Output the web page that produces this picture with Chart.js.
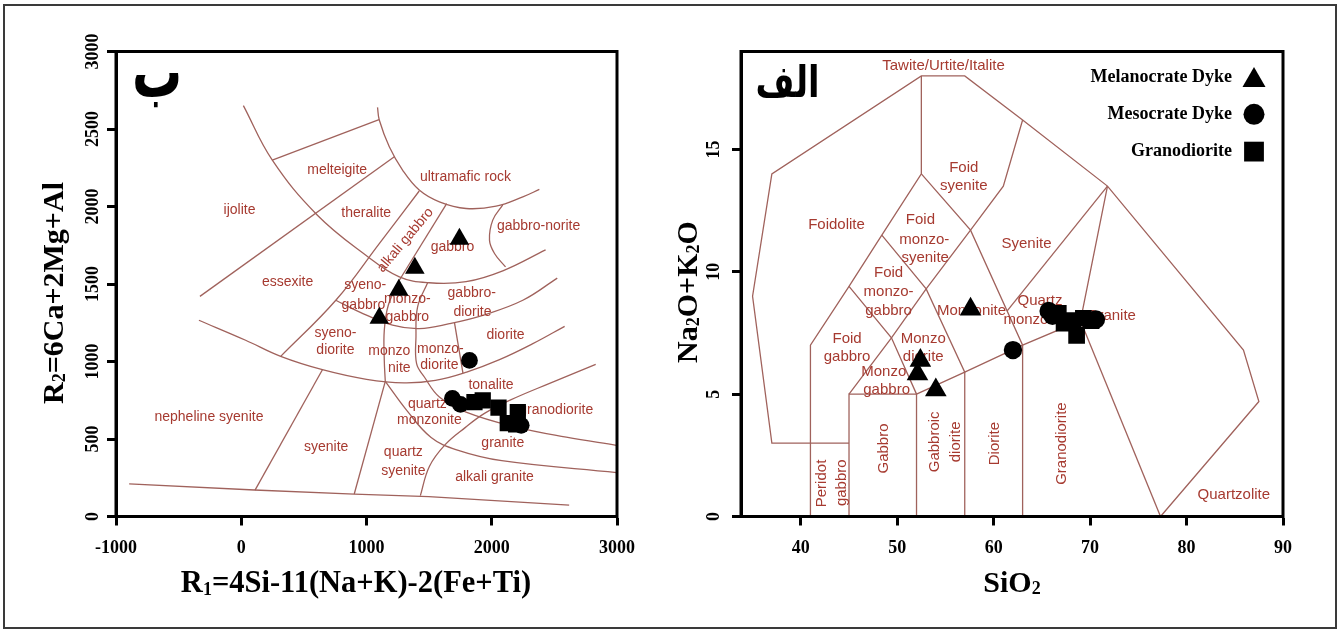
<!DOCTYPE html>
<html>
<head>
<meta charset="utf-8">
<script src="https://cdn.jsdelivr.net/npm/chart.js@4.4.1/dist/chart.umd.min.js"></script>
<style>
  html, body { margin: 0; padding: 0; background: #fff; }
  #wrap { position: relative; width: 1341px; height: 632px; overflow: hidden; background: #fff; }
  canvas { position: absolute; top: 0; }
  #leftChart { left: 0; }
  #rightChart { left: 670px; }
  #frame { position: absolute; left: 3px; top: 4px; width: 1330px; height: 621px; border: 2px solid #3a3a3a; pointer-events: none; }
</style>
</head>
<body>
<div id="wrap">
  <canvas id="leftChart" width="670" height="632"></canvas>
  <canvas id="rightChart" width="671" height="632"></canvas>
  <div id="frame"></div>
</div>
<script>
// ---------- R1–R2 diagram (left panel) ----------
const r1Ticks = [-1000, 0, 1000, 2000, 3000];
const r2Ticks = [0, 500, 1000, 1500, 2000, 2500, 3000];

// samples: [R1, R2]
const melanoR1R2 = [[1742, 1790], [1386, 1603], [1258, 1461], [1102, 1280]];
const mesoR1R2   = [[1822, 1007], [1686, 762], [1750, 723], [2235, 588]];
const granoR1R2  = [[1862, 738], [1928, 749], [2054, 702], [2208, 674], [2128, 603], [2195, 594]];

// field boundaries: [R1, R2]
const rrOuterArc        = [[17, 2651], [248, 2299], [608, 1944], [995, 1686], [1262, 1546], [1500, 1508], [1795, 1515], [2088, 1585], [2430, 1720]];
const rrUltramaficArc   = [[1088, 2640], [1102, 2558], [1182, 2385], [1288, 2235], [1421, 2106], [1582, 2030], [1795, 1987], [2035, 2002], [2248, 2062], [2380, 2110]];
const rrMelteigiteLine  = [[248, 2299], [1100, 2560]];
const rrIjoliteLine     = [[-330, 1420], [1225, 2322]];
const rrAlkGabbroWest   = [[1421, 2100], [1102, 1761], [755, 1395], [315, 1033]];
const rrAlkGabbroEast   = [[1640, 2018], [1262, 1524]];
const rrSyenoMonzoLine  = [[1262, 1524], [1174, 1363], [1142, 1201], [1142, 1008], [1150, 872]];
const rrQuartzSyenite   = [[1150, 872], [902, 145]];
const rrDioriteArc      = [[-338, 1266], [35, 1137], [315, 1033], [648, 947], [1000, 885], [1300, 862], [1550, 878], [1800, 932], [2062, 1012], [2328, 1115], [2582, 1227]];
const rrMonzoArc        = [[755, 1395], [942, 1320], [1208, 1234], [1422, 1212], [1662, 1244], [1928, 1298], [2248, 1395], [2523, 1538]];
const rrMonzoniteBend   = [[1488, 1508], [1408, 1352], [1395, 1158], [1400, 986], [1462, 900], [1582, 771], [1795, 674], [2195, 577], [2595, 512], [2995, 459]];
const rrQuartzArc       = [[1150, 872], [1326, 680], [1516, 510], [1720, 430], [2080, 360], [2997, 283]];
const rrGranodioriteArc = [[1430, 135], [1502, 323], [1630, 465], [1790, 575], [1942, 665], [2142, 749], [2462, 859], [2830, 981]];
const rrNephSyenite     = [[648, 947], [110, 170]];
const rrMonzodiorite    = [[1702, 1252], [1770, 925]];
const rrGabbroNoriteArc = [[2088, 2010], [2008, 1912], [1982, 1783], [2022, 1697], [2110, 1610]];
const rrBaseLine        = [[-895, 211], [105, 171], [902, 145], [1497, 128], [2618, 73]];

// [points, smooth]
const rrBoundaries = [
  [rrOuterArc, true], [rrUltramaficArc, true], [rrMelteigiteLine, false], [rrIjoliteLine, false],
  [rrAlkGabbroWest, true], [rrAlkGabbroEast, false], [rrSyenoMonzoLine, true], [rrQuartzSyenite, false],
  [rrDioriteArc, true], [rrMonzoArc, true], [rrMonzoniteBend, true], [rrQuartzArc, true],
  [rrGranodioriteArc, true], [rrNephSyenite, false], [rrMonzodiorite, false], [rrGabbroNoriteArc, true],
  [rrBaseLine, false]
];

// field names: [text, R1, R2, angle]
const rrFieldLabels = [
  ['melteigite', 766, 2235], ['ultramafic rock', 1790, 2188], ['ijolite', -14, 1979], ['theralite', 998, 1954],
  ['gabbro-norite', 2374, 1873], ['gabbro', 1686, 1741], ['alkali gabbro', 1310, 1783, -50], ['essexite', 370, 1511],
  ['syeno-', 990, 1492], ['gabbro', 975, 1365], ['monzo-', 1326, 1405], ['gabbro', 1326, 1285],
  ['gabbro-', 1840, 1440], ['diorite', 1846, 1321], ['diorite', 2110, 1172],
  ['syeno-', 752, 1184], ['diorite', 752, 1072], ['monzo', 1182, 1068], ['nite', 1262, 954],
  ['monzo-', 1590, 1082], ['diorite', 1582, 975], ['tonalite', 1994, 846],
  ['quartz', 1486, 727], ['monzonite', 1502, 620], ['granodiorite', 2515, 685], ['granite', 2088, 473],
  ['alkali granite', 2022, 252], ['quartz', 1294, 413], ['syenite', 1294, 291], ['syenite', 678, 446],
  ['nepheline syenite', -258, 639]
];

// ---------- TAS diagram (right panel) ----------
const sio2Ticks = [40, 50, 60, 70, 80, 90];
const alkTicks = [0, 5, 10, 15];

// samples: [SiO2, Na2O+K2O]
const melanoTAS = [[57.6, 8.47], [52.4, 6.37], [52.1, 5.82], [54.0, 5.17]];
const mesoTAS   = [[62.0, 6.8], [65.7, 8.4], [66.1, 8.2], [70.6, 8.05]];
const granoTAS  = [[66.7, 8.3], [67.3, 7.9], [68.2, 8.0], [68.6, 7.4], [69.3, 8.1], [70.1, 8.0]];

// field boundaries: [SiO2, Na2O+K2O]
const tasOuter            = [[45, 3], [37, 3], [35, 9], [37, 14], [52.5, 18], [57, 18], [63, 16.2], [71.8, 13.5], [85.9, 6.8], [87.5, 4.7], [77.3, 0]];
const tasFoidoliteEdge    = [[41, 0], [41, 7], [45, 9.4], [48.4, 11.5], [52.5, 14], [52.5, 18]];
const tasGabbroBox        = [[45, 0], [45, 5], [52, 5], [52, 0]];
const tasAlkaliEdge       = [[45, 5], [49.4, 7.3], [53, 9.3], [57.6, 11.7], [61, 13.5], [63, 16.2]];
const tasMonzogabbroEdge  = [[45, 9.4], [49.4, 7.3], [52, 5]];
const tasMonzodioriteEdge = [[48.4, 11.5], [53, 9.3], [57, 5.9], [57, 0]];
const tasMonzoniteEdge    = [[52.5, 14], [57.6, 11.7], [63, 7], [63, 0]];
const tasSubalkalineEdge  = [[52, 5], [57, 5.9], [63, 7], [69, 8], [71.8, 13.5]];
const tasGraniteEdge      = [[69, 8], [77.3, 0]];
const tasSyeniteEdge      = [[61.4, 8.4], [71.8, 13.5]];

const tasBoundaries = [
  tasOuter, tasFoidoliteEdge, tasGabbroBox, tasAlkaliEdge, tasMonzogabbroEdge,
  tasMonzodioriteEdge, tasMonzoniteEdge, tasSubalkalineEdge, tasGraniteEdge, tasSyeniteEdge
];

// field names: [text, SiO2, Na2O+K2O, angle]
const tasFieldLabels = [
  ['Tawite/Urtite/Italite', 54.8, 18.4], ['Foid', 56.9, 14.26], ['syenite', 56.9, 13.49], ['Foidolite', 43.7, 11.9],
  ['Foid', 52.4, 12.13], ['monzo-', 52.8, 11.31], ['syenite', 52.9, 10.57],
  ['Foid', 49.1, 9.94], ['monzo-', 49.1, 9.16], ['gabbro', 49.1, 8.42],
  ['Monzonite', 57.7, 8.42], ['Quartz', 64.8, 8.8], ['monzonite', 64.6, 8.04], ['Granite', 72.2, 8.21],
  ['Syenite', 63.4, 11.16], ['Foid', 44.8, 7.26], ['gabbro', 44.8, 6.51], ['Monzo', 52.7, 7.26], ['diorite', 52.7, 6.51],
  ['Monzo', 48.6, 5.9], ['gabbro', 48.9, 5.16],
  ['Peridot', 42.2, 1.35, -90], ['gabbro', 44.26, 1.38, -90], ['Gabbro', 48.6, 2.78, -90],
  ['Gabbroic', 53.9, 3.05, -90], ['diorite', 56.1, 3.05, -90], ['Diorite', 60.1, 2.98, -90],
  ['Granodiorite', 67.1, 2.98, -90], ['Quartzolite', 84.9, 0.88]
];

const tasLegend = [['Melanocrate Dyke', 'triangle'], ['Mesocrate Dyke', 'circle'], ['Granodiorite', 'rect']];

// axis titles with subscripts
const r1Title  = [{ t: 'R' }, { t: '1', sub: true }, { t: '=4Si-11(Na+K)-2(Fe+Ti)' }];
const r2Title  = [{ t: 'R' }, { t: '2', sub: true }, { t: '=6Ca+2Mg+Al' }];
const sioTitle = [{ t: 'SiO' }, { t: '2', sub: true }];
const alkTitle = [{ t: 'Na' }, { t: '2', sub: true }, { t: 'O+K' }, { t: '2', sub: true }, { t: 'O' }];

// ---------- drawing helpers ----------
const SERIF = "'Liberation Serif','Times New Roman',Times,serif";
const SANS = "'Liberation Sans',Arial,Helvetica,sans-serif";
const FIELD_COLOR = 'rgb(166,58,48)';
const LINE_COLOR = 'rgb(160,98,92)';

const toXY = pts => pts.map(([x, y]) => ({ x, y }));

function boundarySet(pts, smooth) {
  return {
    data: toXY(pts), showLine: true, pointRadius: 0, pointHoverRadius: 0,
    borderColor: LINE_COLOR, borderWidth: 1.3, tension: smooth ? 0.4 : 0, fill: false
  };
}
function markerSet(label, pts, style, radius) {
  return {
    label, data: toXY(pts), showLine: false, pointStyle: style, pointRadius: radius,
    pointHoverRadius: radius, backgroundColor: '#000', borderColor: '#000', borderWidth: 0
  };
}

function drawRich(ctx, parts, x, y, size, angle) {
  ctx.save();
  ctx.translate(x, y);
  if (angle) ctx.rotate(angle);
  const mainFont = `bold ${size}px ${SERIF}`;
  const subFont = `bold ${Math.round(size * 0.6)}px ${SERIF}`;
  let width = 0;
  for (const p of parts) { ctx.font = p.sub ? subFont : mainFont; width += ctx.measureText(p.t).width; }
  let cx = -width / 2;
  ctx.fillStyle = '#000';
  ctx.textAlign = 'left';
  ctx.textBaseline = 'alphabetic';
  for (const p of parts) {
    ctx.font = p.sub ? subFont : mainFont;
    ctx.fillText(p.t, cx, size * 0.33 + (p.sub ? size * 0.08 : 0));
    cx += ctx.measureText(p.t).width;
  }
  ctx.restore();
}

// field names go under the sample markers (markers are datasets 0..2, index 2 is drawn first)
function fieldLabelPlugin(list, fontSize) {
  return {
    id: 'fieldLabels',
    beforeDatasetDraw(chart, args) {
      if (args.index !== 2) return;
      const { ctx, scales: { x, y } } = chart;
      ctx.save();
      ctx.beginPath();
      ctx.rect(chart.chartArea.left, chart.chartArea.top, chart.chartArea.width, chart.chartArea.height);
      ctx.clip();
      ctx.fillStyle = FIELD_COLOR;
      ctx.font = `${fontSize}px ${SANS}`;
      ctx.textAlign = 'center';
      ctx.textBaseline = 'middle';
      for (const [text, vx, vy, ang] of list) {
        const px = x.getPixelForValue(vx), py = y.getPixelForValue(vy);
        ctx.save();
        ctx.translate(px, py);
        if (ang) ctx.rotate(ang * Math.PI / 180);
        ctx.fillText(text, 0, 0);
        ctx.restore();
      }
      ctx.restore();
    }
  };
}

const plotFrame = {
  id: 'plotFrame',
  afterDatasetsDraw(chart) {
    const { ctx, chartArea: a } = chart;
    ctx.save();
    ctx.strokeStyle = '#000';
    ctx.lineWidth = 3;
    ctx.strokeRect(a.left, a.top, a.right - a.left, a.bottom - a.top);
    ctx.restore();
  }
};

// panel letter (Arabic), axis titles, optional legend
function panelDecor(opts) {
  return {
    id: 'panelDecor',
    afterDraw(chart) {
      const { ctx, chartArea: a } = chart;
      opts.titles.forEach(tt => drawRich(ctx, tt.parts, tt.x, tt.y, tt.size, tt.angle));
      const m = opts.mark;
      ctx.save();
      ctx.translate(a.left + m.dx, a.top + m.dy);
      ctx.scale(m.sx, m.sy);
      ctx.fillStyle = '#000';
      ctx.font = `bold ${m.size}px 'DejaVu Sans',sans-serif`;
      ctx.textAlign = 'center';
      ctx.textBaseline = 'middle';
      ctx.direction = 'rtl';
      ctx.fillText(m.text, 0, 0);
      ctx.restore();
      if (opts.legend) opts.legend(chart);
    }
  };
}

function drawTasLegend(chart) {
  const { ctx, chartArea: a } = chart;
  const radii = { triangle: 13.3, circle: 10.5, rect: 14 };
  ctx.save();
  ctx.font = `bold 18px ${SERIF}`;
  ctx.textAlign = 'right';
  ctx.textBaseline = 'middle';
  tasLegend.forEach(([text, style], i) => {
    const yy = a.top + 25.5 + i * 37.3;
    ctx.fillStyle = '#000';
    ctx.fillText(text, a.right - 51, yy);
    const r = radii[style];
    const cy = style === 'triangle' ? yy + r / 4 : yy;
    Chart.helpers.drawPoint(ctx, { pointStyle: style, radius: r, rotation: 0, borderWidth: 0 }, a.right - 29, cy);
  });
  ctx.restore();
}

function axisCommon(extra) {
  return Object.assign({
    type: 'linear',
    grid: { display: true, drawOnChartArea: false, drawTicks: true, tickLength: 9, tickWidth: 3, tickColor: '#000' },
    border: { display: true, color: '#000', width: 3 }
  }, extra);
}

const tickFont = { family: SERIF, size: 18, weight: 'bold' };

// ---------- left chart ----------
new Chart(document.getElementById('leftChart'), {
  type: 'scatter',
  data: {
    datasets: [
      markerSet('Melanocrate Dyke', melanoR1R2, 'triangle', 11.3),
      markerSet('Mesocrate Dyke', mesoR1R2, 'circle', 8.4),
      markerSet('Granodiorite', granoR1R2, 'rect', 11.5),
      ...rrBoundaries.map(([pts, smooth]) => boundarySet(pts, smooth))
    ]
  },
  options: {
    responsive: false, animation: false, devicePixelRatio: 1, events: [],
    layout: { padding: { left: 0, top: 51.5, right: 53, bottom: 0 } },
    plugins: { legend: { display: false }, tooltip: { enabled: false } },
    scales: {
      x: axisCommon({
        min: -1000, max: 3000,
        afterBuildTicks: s => { s.ticks = r1Ticks.map(v => ({ value: v })); },
        afterFit: s => { s.height = 115.5; },
        ticks: { font: tickFont, color: '#000', padding: 12, minRotation: 0, maxRotation: 0, callback: v => String(v) }
      }),
      y: axisCommon({
        min: 0, max: 3000,
        afterBuildTicks: s => { s.ticks = r2Ticks.map(v => ({ value: v })); },
        afterFit: s => { s.width = 116; },
        ticks: { font: tickFont, color: '#000', padding: -4, minRotation: 90, maxRotation: 90, crossAlign: 'center', callback: v => String(v) }
      })
    }
  },
  plugins: [
    fieldLabelPlugin(rrFieldLabels, 14), plotFrame,
    panelDecor({
      titles: [
        { parts: r1Title, x: 356, y: 582, size: 30.5, angle: 0 },
        { parts: r2Title, x: 53, y: 293, size: 30, angle: -Math.PI / 2 }
      ],
      mark: { text: 'ب', size: 50, dx: 41, dy: 27, sx: 1.0, sy: 1.45 }
    })
  ]
});

// ---------- right chart ----------
new Chart(document.getElementById('rightChart'), {
  type: 'scatter',
  data: {
    datasets: [
      markerSet('Melanocrate Dyke', melanoTAS, 'triangle', 12.5),
      markerSet('Mesocrate Dyke', mesoTAS, 'circle', 9.2),
      markerSet('Granodiorite', granoTAS, 'rect', 11.8),
      ...tasBoundaries.map(pts => boundarySet(pts, false))
    ]
  },
  options: {
    responsive: false, animation: false, devicePixelRatio: 1, events: [],
    layout: { padding: { left: 0, top: 51.5, right: 58, bottom: 0 } },
    plugins: { legend: { display: false }, tooltip: { enabled: false } },
    scales: {
      x: axisCommon({
        min: 33.8, max: 90,
        afterBuildTicks: s => { s.ticks = sio2Ticks.map(v => ({ value: v })); },
        afterFit: s => { s.height = 115.5; },
        ticks: { font: tickFont, color: '#000', padding: 12, minRotation: 0, maxRotation: 0, callback: v => String(v) }
      }),
      y: axisCommon({
        min: 0, max: 19,
        afterBuildTicks: s => { s.ticks = alkTicks.map(v => ({ value: v })); },
        afterFit: s => { s.width = 71; },
        ticks: { font: tickFont, color: '#000', padding: 9, minRotation: 90, maxRotation: 90, crossAlign: 'center', callback: v => String(v) }
      })
    }
  },
  plugins: [
    fieldLabelPlugin(tasFieldLabels, 15), plotFrame,
    panelDecor({
      titles: [
        { parts: sioTitle, x: 342, y: 582, size: 30, angle: 0 },
        { parts: alkTitle, x: 17, y: 292, size: 30, angle: -Math.PI / 2 }
      ],
      mark: { text: 'الف', size: 42, dx: 46.5, dy: 34, sx: 0.8, sy: 1.05 },
      legend: drawTasLegend
    })
  ]
});
</script>
</body>
</html>
